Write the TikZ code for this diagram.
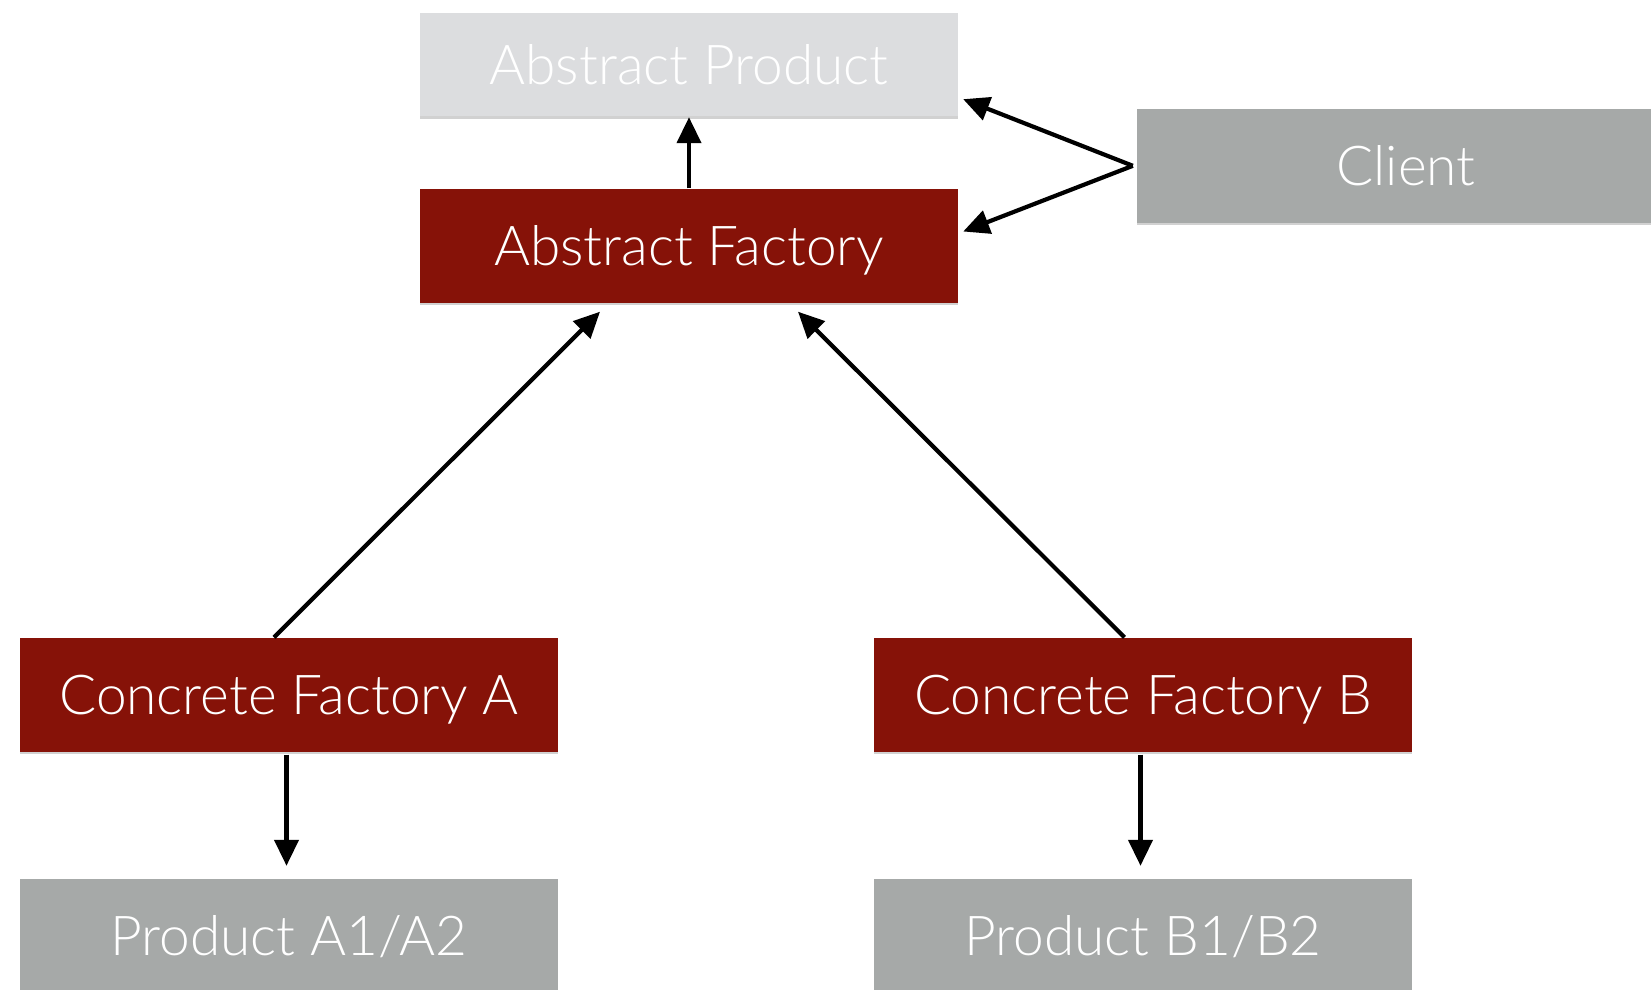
\documentclass[tikz,border=0pt]{standalone}
\usepackage{fontspec}
\setmainfont{Lato}[UprightFont=* Light]
\usetikzlibrary{arrows.meta,shadows,calc}
\definecolor{apgray}{HTML}{DCDDDF}
\definecolor{afred}{HTML}{861208}
\definecolor{pgray}{HTML}{A6A9A8}
\tikzset{
  box/.style={rectangle, inner sep=0pt, minimum width=538pt, minimum height=114pt,
    text=white, font=\fontsize{55}{60}\selectfont, text height=39.4pt, text depth=0pt,
    drop shadow={shadow xshift=0pt, shadow yshift=-2.5pt, opacity=0.18, fill=black}},
  redbox/.style={box, fill=afred},
  graybox/.style={box, fill=pgray},
  lightbox/.style={box, fill=apgray, minimum height=103pt},
  conn/.style={line width=4.2pt, -{Triangle[length=26pt,width=24pt]}}
}
\begin{document}
\begin{tikzpicture}[x=1pt,y=-1pt]
\useasboundingbox (0,0) rectangle (1651,990);
\clip (0,0) rectangle (1651,990);
\node[lightbox] (AP) at (689,64.5) {Abstract Product};
\node[redbox] (AF) at (689,245.5) {Abstract Factory};
\node[graybox] (CL) at (1406,165.8) {Client};
\node[redbox] (CFA) at (289,694.5) {Concrete Factory A};
\node[redbox] (CFB) at (1143,694.5) {Concrete Factory B};
\node[graybox] (PA) at (289,936) {Product A1/A2};
\node[graybox] (PB) at (1143,936) {Product B1/B2};
\coordinate (CLp) at ($(CL.west)+(-4,0)$);
\draw[conn] (AF.north) -- ($(AP.south)+(0,1)$);
\draw[conn] (CLp) -- ($(AP.south east)+(5,-17)$);
\draw[conn] (CLp) -- ($(AF.east)+(5,-14)$);
\draw[conn] ($(CFA.north)+(-15,0)$) -- ($(AF.south)+(-89,9)$);
\draw[conn] ($(CFB.north)+(-18.5,0)$) -- ($(AF.south)+(109,9)$);
\draw[conn] ($(CFA.south)+(-2.5,3)$) -- ($(PA.north)+(-2.5,-13)$);
\draw[conn] ($(CFB.south)+(-2.5,3)$) -- ($(PB.north)+(-2.5,-13)$);
\end{tikzpicture}
\end{document}
